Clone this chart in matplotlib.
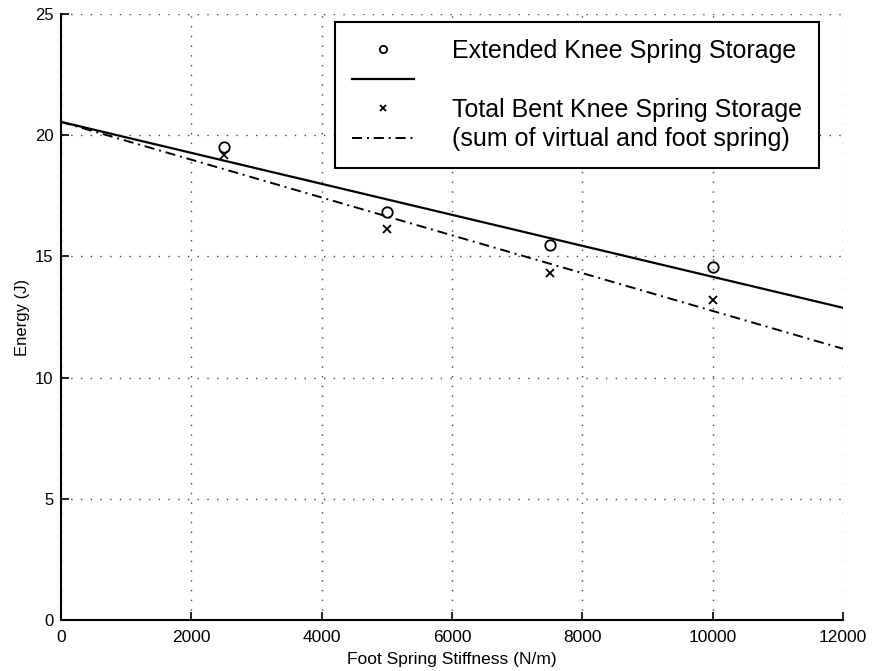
import matplotlib
matplotlib.use("Agg")
import matplotlib.pyplot as plt

plt.rcParams['font.family'] = ['Liberation Sans', 'DejaVu Sans']

# Data
stiffness = [2500, 5000, 7500, 10000]
extended_energy = [19.5, 16.84, 15.49, 14.55]
bent_energy = [19.2, 16.15, 14.30, 13.2]
fit_x = [0, 12000]
extended_fit = [20.55, 12.88]
bent_fit = [20.55, 11.19]

xticks = [0, 2000, 4000, 6000, 8000, 10000, 12000]
yticks = [0, 5, 10, 15, 20, 25]

fig = plt.figure(figsize=(8.72, 6.71), dpi=100)
ax = fig.add_axes([61/872, 51/671, 782/872, 606/671])

h1, = ax.plot(stiffness, extended_energy, linestyle='none', marker='o', markersize=7.5,
              markerfacecolor='none', markeredgecolor='black', markeredgewidth=1.3)
h2, = ax.plot(fit_x, extended_fit, color='black', linewidth=1.6, linestyle='-')
h3, = ax.plot(stiffness, bent_energy, linestyle='none', marker='x', markersize=5.5,
              color='black', markeredgewidth=1.3)
h4, = ax.plot(fit_x, bent_fit, color='black', linewidth=1.4, linestyle=(0, (5.2, 2.5, 1, 2.5)))

ax.set_xlim(0, 12000)
ax.set_ylim(0, 25)
ax.set_xticks(xticks)
ax.set_yticks(yticks)
ax.set_xticklabels([str(v) for v in xticks], fontsize=12.5)
ax.set_yticklabels([str(v) for v in yticks], fontsize=12)
ax.tick_params(direction='in', length=6, width=1.2, colors='black')
ax.tick_params(axis='x', pad=7)
ax.tick_params(axis='y', pad=5.5)
ax.spines['top'].set_visible(False)
ax.spines['right'].set_visible(False)
ax.spines['left'].set_linewidth(1.5)
ax.spines['bottom'].set_linewidth(1.5)
ax.grid(True, linestyle=(0, (1, 6)), color='#444444', linewidth=1.0)
ax.set_axisbelow(True)

ax.set_xlabel('Foot Spring Stiffness (N/m)', fontsize=12.5, labelpad=5)
ax.set_ylabel('Energy (J)', fontsize=12, labelpad=3.5)

handles = [h1, h2, h3, h4]
labels = ['Extended Knee Spring Storage', '', 'Total Bent Knee Spring Storage',
          '(sum of virtual and foot spring)']
leg = ax.legend(handles, labels, loc='upper right', bbox_to_anchor=(0.969, 0.987),
                borderaxespad=0, fontsize=18, frameon=True, fancybox=False,
                handlelength=2.5, handletextpad=1.5, labelspacing=0.22,
                borderpad=0.68, framealpha=1, edgecolor='black', markerscale=0.7)
leg.get_frame().set_linewidth(1.5)

fig.savefig('out.png', dpi=100)
